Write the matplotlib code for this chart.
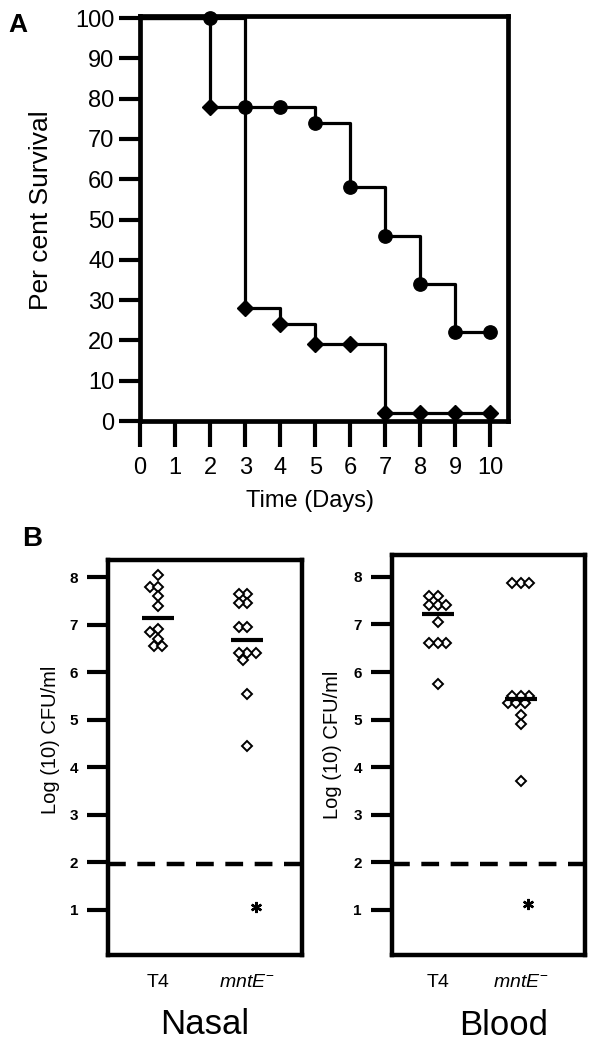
import numpy as np
import matplotlib.pyplot as plt

plt.rcParams['font.family'] = ['Liberation Sans', 'DejaVu Sans']
plt.rcParams['mathtext.fontset'] = 'custom'
plt.rcParams['mathtext.rm'] = 'Liberation Sans'
plt.rcParams['mathtext.it'] = 'Liberation Sans:italic'

## panel A: survival (per cent) against time
days = [0, 2, 3, 4, 5, 6, 7, 8, 9, 10]
surv_t4 = [100, 100, 78, 78, 74, 58, 46, 34, 22, 22]
surv_mnte = [100, 78, 28, 24, 19, 19, 2, 2, 2, 2]

## panel B: log10 CFU/ml per mouse
groups = ['T4', r'$mntE^{-}$']
nasal_t4 = [8.05, 7.8, 7.8, 7.6, 7.4, 6.9, 6.85, 6.7, 6.55, 6.55]
nasal_mnte = [7.65, 7.65, 7.45, 7.45, 6.95, 6.95, 6.4, 6.4, 6.4, 6.25, 5.55, 4.45]
blood_t4 = [7.6, 7.6, 7.4, 7.4, 7.4, 7.05, 6.6, 6.6, 6.6, 5.75]
blood_mnte = [7.87, 7.87, 7.87, 5.5, 5.5, 5.5, 5.35, 5.35, 5.35, 5.1, 4.9, 3.7]
# mice below detection (plotted as *)
nasal_below = 1.05
blood_below = 1.12
detect_limit = 1.97

W, H = 603, 1050
fig = plt.figure(figsize=(W / 100, H / 100), dpi=100)


def swarm(vals, xpx, ypx, d=8.5):
    # simple beeswarm: spread points sideways when they would overlap
    placed = []
    offs = np.zeros(len(vals))
    for i in np.argsort(vals)[::-1]:
        for k in [0, -0.5, 0.5, -1, 1, -1.5, 1.5, -2, 2]:
            dx = k * d
            ok = all((dx - px) ** 2 + ((vals[i] - v) * ypx) ** 2 >= (0.9 * d) ** 2
                     for px, v in placed)
            if ok:
                break
        placed.append((dx, vals[i]))
        offs[i] = dx / xpx
    return offs


# ---- A ----
axA = fig.add_axes([140 / W, 1 - 421 / H, 368 / W, 405 / H])
for s in axA.spines.values():
    s.set_linewidth(3.4)
axA.step(days, surv_t4, where='post', color='k', lw=2.3, clip_on=False)
axA.step(days, surv_mnte, where='post', color='k', lw=2.3, clip_on=False)
axA.plot(days[1:], surv_t4[1:], 'o', ms=9.6, color='k', clip_on=False, zorder=4)
axA.plot(days[1:], surv_mnte[1:], 'D', ms=8.2, color='k', clip_on=False, zorder=4)
axA.set_xlim(0, 10.5)
axA.set_ylim(0, 100.5)
axA.set_xticks(range(11))
axA.set_yticks(range(0, 101, 10))
axA.tick_params(axis='both', direction='out', width=3, labelsize=17)
axA.tick_params(axis='y', length=15, pad=3.5)
axA.tick_params(axis='x', length=19, pad=7)
axA.set_ylabel('Per cent Survival', fontsize=19)
axA.yaxis.set_label_coords(-0.236, 0.521)
axA.set_xlabel('Time (Days)', fontsize=17)
axA.xaxis.set_label_coords(0.462, -0.17)
fig.text(8 / W, 1 - 13 / H, 'A', fontsize=19, fontweight='bold', va='top')

# ---- B ----
panels = [
    ('Nasal', [108, 955, 194, 395], (-0.56, 1.61), (0.05, 8.36),
     [nasal_t4, nasal_mnte], nasal_below, 0.5, (-0.247, 0.544)),
    ('Blood', [391.7, 955, 193.3, 400], (-0.56, 1.78), (0.05, 8.46),
     [blood_t4, blood_mnte], blood_below, 0.577, (-0.257, 0.525)),
]
for name, (l, b, w, h), xl, yl, series, below, xlab_x, ylab_xy in panels:
    ax = fig.add_axes([l / W, 1 - b / H, w / W, h / H])
    for s in ax.spines.values():
        s.set_linewidth(3.2)
    ax.set_xlim(*xl)
    ax.set_ylim(*yl)
    xpx = w / (xl[1] - xl[0])
    ypx = h / (yl[1] - yl[0])
    for c, vals in enumerate(series):
        vals = np.array(vals)
        xs = c + swarm(vals, xpx, ypx)
        ax.plot(xs, vals, 'D', ms=4.6, mfc='white', mec='k', mew=1.4, ls='none')
        med = np.median(vals)
        hw = 16 / xpx
        ax.plot([c - hw, c + hw], [med, med], color='k', lw=3, solid_capstyle='butt')
    ax.plot([1 + 0.09], [below], marker=(6, 2, 0), ms=8, mew=1.7, color='k', ls='none')
    ax.axhline(detect_limit, color='k', lw=3.2, dashes=(4, 2.6))
    ax.set_yticks(range(1, 9))
    ax.set_yticklabels([str(i) for i in range(1, 9)], fontweight='bold')
    ax.tick_params(axis='y', length=15, width=3, pad=6.5, labelsize=11)
    ax.set_xticks([0, 1])
    ax.set_xticklabels(groups, fontsize=14)
    ax.tick_params(axis='x', length=0, pad=14)
    ax.set_ylabel('Log (10) CFU/ml', fontsize=14.5)
    ax.yaxis.set_label_coords(*ylab_xy)
    ax.set_xlabel(name, fontsize=25)
    ax.xaxis.set_label_coords(xlab_x, -0.135)

fig.text(22 / W, 1 - 526 / H, 'B', fontsize=20, fontweight='bold', va='top')

fig.savefig('out.png', dpi=100)
